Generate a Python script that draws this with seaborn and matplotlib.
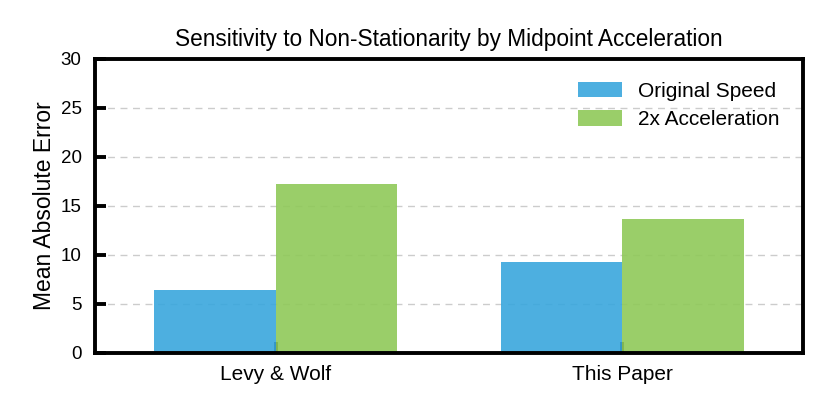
import matplotlib
matplotlib.use("Agg")
import matplotlib.pyplot as plt
import seaborn as sns
import pandas as pd

methods = ["Levy & Wolf", "This Paper"]
conditions = ["Original Speed", "2x Acceleration"]
original_speed = [6.4, 9.3]
acceleration_2x = [17.2, 13.7]
yticks = [0, 5, 10, 15, 20, 25, 30]

df = pd.DataFrame({
    "Method": methods * 2,
    "Condition": [conditions[0]] * 2 + [conditions[1]] * 2,
    "MAE": original_speed + acceleration_2x,
})

sns.set_theme(style="white")
plt.rcParams["font.family"] = ["Liberation Sans", "DejaVu Sans"]
plt.rcParams["text.color"] = "black"
plt.rcParams["axes.labelcolor"] = "black"
plt.rcParams["xtick.color"] = "black"
plt.rcParams["ytick.color"] = "black"

fig, ax = plt.subplots(figsize=(8.3, 4.15), dpi=100)
fig.subplots_adjust(left=0.115, right=0.967, top=0.858, bottom=0.15)

palette = {conditions[0]: "#39a7dd", conditions[1]: "#8fc959"}
sns.barplot(data=df, x="Method", y="MAE", hue="Condition", hue_order=conditions,
            palette=palette, width=0.7, alpha=0.9, ax=ax, errorbar=None,
            saturation=1, linewidth=0)

ax.set_axisbelow(True)
ax.set_xlim(-0.52, 1.52)
ax.set_ylim(0, 30)
ax.set_yticks(yticks)
ax.yaxis.grid(True, linestyle=(0, (5, 4)), color="#cccccc", linewidth=1)
ax.xaxis.grid(False)
for s in ax.spines.values():
    s.set_linewidth(2.8)
    s.set_color("black")
ax.tick_params(axis="y", direction="in", length=8, width=2.8, labelsize=13.5, pad=10, left=True)
ax.tick_params(axis="x", direction="in", length=8, width=2.8, labelsize=15, pad=9, bottom=True)
ax.set_xlabel("")
ax.set_ylabel("Mean Absolute Error", fontsize=16.5, labelpad=3)
ax.set_title("Sensitivity to Non-Stationarity by Midpoint Acceleration", fontsize=16.3, pad=9)

leg = ax.legend(loc="upper right", frameon=False, fontsize=15, handlelength=2.1,
                handleheight=0.75, handletextpad=0.8, borderaxespad=0.7, labelspacing=0.45)

fig.savefig("out.png", dpi=100)
